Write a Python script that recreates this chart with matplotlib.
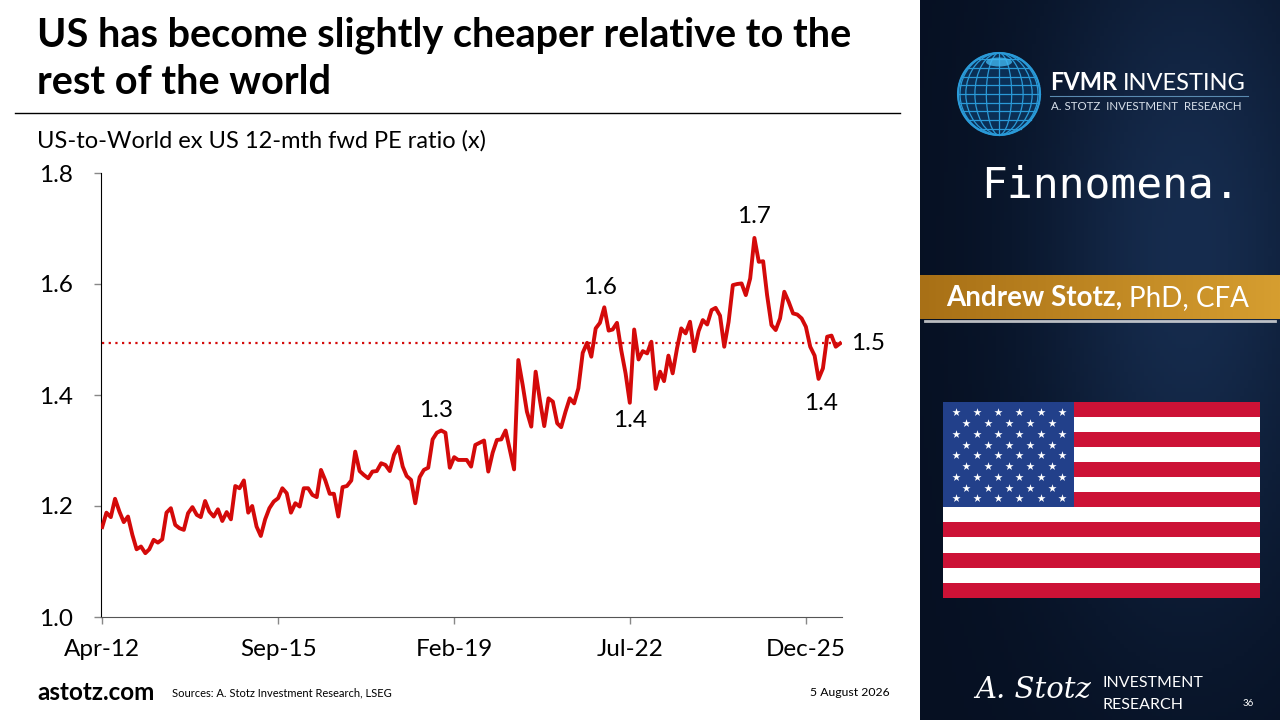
import numpy as np
import pandas as pd
import matplotlib
matplotlib.use("Agg")
import matplotlib.pyplot as plt
import matplotlib.dates as mdates
from matplotlib.patches import Rectangle, Circle, Ellipse

# US-to-World ex US 12-mth fwd PE ratio, monthly from Apr-2012
pe_ratio = [
    1.162, 1.188, 1.180, 1.213, 1.190, 1.171, 1.181, 1.148, 1.122, 1.127,
    1.115, 1.122, 1.139, 1.134, 1.140, 1.188, 1.196, 1.166, 1.160, 1.157,
    1.187, 1.198, 1.184, 1.180, 1.209, 1.190, 1.181, 1.194, 1.173, 1.189,
    1.176, 1.236, 1.232, 1.246, 1.188, 1.200, 1.163, 1.146, 1.176, 1.196,
    1.208, 1.214, 1.232, 1.223, 1.188, 1.205, 1.199, 1.232, 1.232, 1.220,
    1.216, 1.265, 1.246, 1.222, 1.222, 1.181, 1.234, 1.236, 1.246, 1.298,
    1.263, 1.256, 1.250, 1.262, 1.263, 1.277, 1.274, 1.263, 1.292, 1.307,
    1.271, 1.254, 1.247, 1.205, 1.252, 1.265, 1.269, 1.320, 1.332, 1.336,
    1.332, 1.269, 1.288, 1.283, 1.283, 1.283, 1.271, 1.310, 1.314, 1.318,
    1.262, 1.296, 1.319, 1.320, 1.336, 1.302, 1.266, 1.463, 1.418, 1.370,
    1.343, 1.442, 1.391, 1.344, 1.394, 1.388, 1.349, 1.342, 1.370, 1.394,
    1.385, 1.412, 1.476, 1.494, 1.469, 1.520, 1.530, 1.558, 1.516, 1.518,
    1.530, 1.481, 1.439, 1.386, 1.518, 1.464, 1.479, 1.475, 1.496, 1.411,
    1.442, 1.425, 1.471, 1.439, 1.484, 1.520, 1.511, 1.532, 1.479, 1.515,
    1.535, 1.527, 1.553, 1.557, 1.543, 1.487, 1.532, 1.598, 1.600, 1.601,
    1.580, 1.610, 1.683, 1.640, 1.641, 1.580, 1.526, 1.517, 1.538, 1.586,
    1.568, 1.547, 1.545, 1.538, 1.523, 1.487, 1.471, 1.429, 1.448, 1.505,
    1.507, 1.487, 1.493,
]
dates = pd.date_range("2012-04-01", periods=len(pe_ratio), freq="MS")
avg_value = 1.493

tick_idx = [0, 41, 82, 123, 164]
y_ticks = [1.0, 1.2, 1.4, 1.6, 1.8]

# callouts: (index, offset x px, offset y px)
callouts = [(79, -5, 20), (117, -4, 20), (123, 0, -18), (152, 0, 21), (167, 3, -25)]

RED = "#d40a0a"
FONT = "Lato"

fig = plt.figure(figsize=(12.8, 7.2), dpi=100)
fig.patch.set_facecolor("white")
renderer = fig.canvas.get_renderer()

# background / decoration layer in pixel coordinates
bg = fig.add_axes([0, 0, 1, 1])
bg.set_xlim(0, 1280)
bg.set_ylim(720, 0)
bg.axis("off")


def text_after(first, x, y, second, size, color="white", **kw):
    # bold part then regular part right behind it
    t = bg.text(x, y, first, color=color, fontsize=size, fontweight="bold", family=FONT,
                va="center", ha="left", zorder=2, **kw)
    x_end = t.get_window_extent(renderer).x1
    bg.text(x_end + size * 0.35, y, second, color=color, fontsize=size, family=FONT,
            va="center", ha="left", zorder=2, **kw)


# right dark panel with gradient
gx = np.linspace(0, 1, 90)
gy = np.linspace(0, 1, 180)
GX, GY = np.meshgrid(gx, gy)
glow = np.exp(-((GX - 0.75) ** 2 / 0.18 + (GY - 0.35) ** 2 / 0.25))
c0 = np.array([6, 16, 34]) / 255
c1 = np.array([22, 44, 78]) / 255
img = c0[None, None, :] + (c1 - c0)[None, None, :] * glow[:, :, None]
bg.imshow(img, extent=[920, 1280, 720, 0], aspect="auto", zorder=0)

# gold banner
gold = np.linspace(0, 1, 200)
gold_img = np.zeros((1, 200, 3))
ca = np.array([168, 112, 22]) / 255
cb = np.array([214, 158, 48]) / 255
gold_img[0] = ca + (cb - ca) * gold[:, None]
bg.imshow(gold_img, extent=[920, 1280, 319, 275], aspect="auto", zorder=1)
bg.plot([925, 1275], [321, 321], color="#e8e8e8", lw=2, alpha=0.8, zorder=1)
text_after("Andrew Stotz,", 946, 298, "PhD, CFA", 20)

# globe logo
gc_x, gc_y, gr = 999, 94, 41
blue = "#2a9ad8"
bg.add_patch(Circle((gc_x, gc_y), gr, facecolor="#0b2f55", edgecolor=blue, lw=1.5, zorder=2))
for w in np.cos(np.linspace(0, np.pi / 2, 6)[:-1]):
    bg.add_patch(Ellipse((gc_x, gc_y), 2 * gr * w, 2 * gr, fill=False, edgecolor=blue, lw=0.9, zorder=3))
bg.plot([gc_x, gc_x], [gc_y - gr, gc_y + gr], color=blue, lw=0.9, zorder=3)
for t in np.linspace(-0.85, 0.85, 9):
    half = gr * np.sqrt(1 - t ** 2)
    bg.plot([gc_x - half, gc_x + half], [gc_y + t * gr, gc_y + t * gr], color=blue, lw=0.9, zorder=3)
bg.add_patch(Ellipse((gc_x, gc_y - gr + 9), 26, 9, facecolor="#3fb6f0", edgecolor="none", alpha=0.8, zorder=3))

text_after("FVMR", 1050, 83, "INVESTING", 17)
bg.plot([1050, 1248], [96, 96], color="#5a8ab0", lw=0.8, zorder=2)
bg.text(1051, 106, "A. STOTZ  INVESTMENT  RESEARCH", color="#d8e0ea", fontsize=8.3,
        family=FONT, va="center", ha="left", zorder=2)

bg.text(981, 186, "Finnomena.", color="white", fontsize=31, family="DejaVu Sans Mono",
        va="center", ha="left", zorder=2)

# US flag
fx0, fx1, fy0 = 943, 1260, 402
stripe_h = 15.05
flag_red = "#cc1236"
for i in range(13):
    bg.add_patch(Rectangle((fx0, fy0 + i * stripe_h), fx1 - fx0, stripe_h,
                           facecolor=flag_red if i % 2 == 0 else "white", edgecolor="none", zorder=2))
bg.add_patch(Rectangle((fx0, fy0), 131, 7 * stripe_h, facecolor="#22408a", edgecolor="none", zorder=3))
star_rows = np.linspace(412.3, 498.3, 9)
for r, yy in enumerate(star_rows):
    xs = np.linspace(955.7, 1062, 6) if r % 2 == 0 else np.linspace(966.3, 1051.7, 5)
    bg.scatter(xs, [yy] * len(xs), marker="*", s=38, color="white", linewidths=0, zorder=4)

# bottom-right signature block
bg.text(975, 690, "A. Stotz", color="white", fontsize=21, family="DejaVu Serif",
        style="italic", va="center", ha="left", zorder=2)
bg.text(1102, 683, "INVESTMENT", color="white", fontsize=11.5, family=FONT,
        va="center", ha="left", zorder=2)
bg.text(1102, 705, "RESEARCH", color="white", fontsize=11.5, family=FONT,
        va="center", ha="left", zorder=2)
bg.text(1248, 704, "36", color="white", fontsize=7, family=FONT, va="center", ha="center", zorder=2)

# title, rule, subtitle, footer
bg.text(37, 35, "US has become slightly cheaper relative to the", fontsize=28.5,
        fontweight="bold", family=FONT, va="center", ha="left")
bg.text(37, 83, "rest of the world", fontsize=28.5, fontweight="bold", family=FONT,
        va="center", ha="left")
bg.plot([15, 900], [113, 113], color="black", lw=1)
bg.text(37, 141, "US-to-World ex US 12-mth fwd PE ratio (x)", fontsize=17, family=FONT,
        va="center", ha="left")
bg.text(37, 693, "astotz.com", fontsize=17.5, fontweight="bold", family=FONT,
        va="center", ha="left")
bg.text(172, 693, "Sources: A. Stotz Investment Research, LSEG", fontsize=8, family=FONT,
        va="center", ha="left")
bg.text(890, 692, "5 August 2026", fontsize=8.8, family=FONT, va="center", ha="right")

# main chart
ax = fig.add_axes([100.8 / 1280, 103 / 720, 741 / 1280, 444 / 720])
ax.set_facecolor("none")
ax.plot(dates, pe_ratio, color=RED, lw=2.8, solid_joinstyle="round", zorder=3)
ax.hlines(avg_value, dates[0], dates[-1], colors=RED, linestyles=(0, (1, 2)), lw=1.6, zorder=2)

for idx, dx, dy in callouts:
    ax.annotate(f"{pe_ratio[idx]:.1f}", (dates[idx], pe_ratio[idx]), xytext=(dx, dy),
                textcoords="offset pixels", ha="center", va="center", fontsize=17.5, family=FONT)
ax.annotate(f"{avg_value:.1f}", (dates[-1], avg_value), xytext=(11, 0),
            textcoords="offset pixels", ha="left", va="center", fontsize=17.5, family=FONT)

ax.set_ylim(1.0, 1.8)
ax.set_yticks(y_ticks)
ax.set_yticklabels([f"{v:.1f}" for v in y_ticks], family=FONT, fontsize=17.5)
ax.set_xlim(dates[0] - pd.Timedelta(days=10), dates[-1] + pd.Timedelta(days=12))
ax.set_xticks(dates[tick_idx])
ax.xaxis.set_major_formatter(mdates.DateFormatter("%b-%y"))
for lab in ax.get_xticklabels():
    lab.set_family(FONT)
    lab.set_fontsize(17.5)
ax.spines["top"].set_visible(False)
ax.spines["right"].set_visible(False)
ax.spines["left"].set_color("black")
ax.spines["bottom"].set_color("#555555")
ax.tick_params(axis="both", direction="out", length=5, width=1, color="#888888")
ax.tick_params(axis="x", pad=11)
ax.tick_params(axis="y", pad=15)

fig.savefig("out.png", dpi=100)
